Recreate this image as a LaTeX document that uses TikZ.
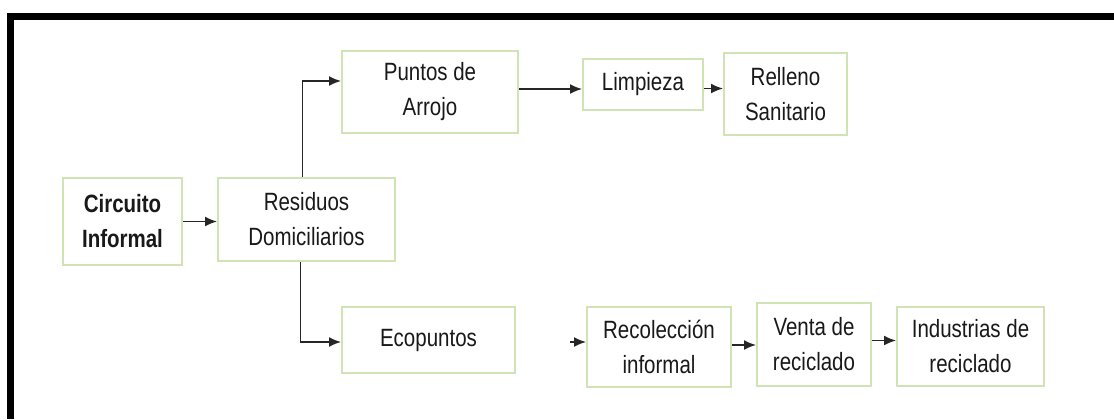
\documentclass[tikz,border=0pt]{standalone}
\usepackage{fontspec}
\setmainfont[FakeStretch=0.82]{Liberation Sans}
\usepackage{tikz}
\usetikzlibrary{arrows.meta,calc,positioning}
\definecolor{kastengruen}{HTML}{CFE3B5}
\tikzset{
  kasten/.style={draw=kastengruen,line width=1pt,fill=white,align=center,inner sep=2pt,
    text=black!90,font=\fontsize{12.5}{17.5}\selectfont},
  pfeil/.style={draw=black!85,line width=0.8pt,-{Latex[length=6pt,width=5pt]}}
}
\begin{document}
\begin{tikzpicture}[x=0.5pt,y=-0.5pt]
\useasboundingbox (0,0) rectangle (1114,419);
%Rahmen (unten abgeschnitten)
\draw[line width=3.5pt] (10,419) -- (10,16.5) -- (1114,16.5);
%Kaesten
\node[kasten,minimum width=59.5pt,minimum height=43.5pt,font=\fontsize{12.5}{17.5}\selectfont\bfseries] (ci) at (122.5,221.5) {Circuito\\Informal};
\node[kasten,minimum width=88.5pt,minimum height=41.5pt] (rd) at (306.5,219.5) {Residuos\\Domiciliarios};
\node[kasten,minimum width=88pt,minimum height=41pt] (pa) at (430,92) {Puntos de\\Arrojo};
\node[kasten,minimum width=60pt,minimum height=25.5pt] (li) at (643,84.5) {Limpieza};
\node[kasten,minimum width=61.5pt,minimum height=41pt] (rs) at (785.5,94) {Relleno\\Sanitario};
\node[kasten,minimum width=86.5pt,minimum height=33pt] (ec) at (428.5,340) {Ecopuntos};
\node[kasten,minimum width=72pt,minimum height=40pt] (ri) at (659,347) {Recolección\\informal};
\node[kasten,minimum width=57pt,minimum height=41.5pt] (vr) at (814,344.5) {Venta de\\reciclado};
\node[kasten,minimum width=73.5pt,minimum height=39.5pt] (ir) at (970.5,346.5) {Industrias de\\reciclado};
%Anschlusspunkte der Pfeile
\coordinate (rdo) at ($(rd.north)+(-4,0)$);
\coordinate (rdu) at ($(rd.south)+(-6,0)$);
\coordinate (pao) at ($(pa.east)+(0,-3)$);
\coordinate (lio) at ($(li.east)+(0,4)$);
\coordinate (eco) at ($(ec.east)+(0,2)$);
\coordinate (rio) at ($(ri.east)+(0,-2)$);
\coordinate (vro) at ($(vr.east)+(0,-4)$);
%Pfeile
\draw[pfeil] (ci.east) -- (ci.east -| rd.west);
\draw[pfeil] (rdo) |- ($(pa.west)+(0,-11)$);
\draw[pfeil] (rdu) |- ($(ec.west)+(0,2)$);
\draw[pfeil] (pao) -- (pao -| li.west);
\draw[pfeil] (lio) -- (lio -| rs.west);
\draw[pfeil,shorten <=27pt] (eco) -- (eco -| ri.west);
\draw[pfeil] (rio) -- (rio -| vr.west);
\draw[pfeil] (vro) -- (vro -| ir.west);
\end{tikzpicture}
\end{document}
